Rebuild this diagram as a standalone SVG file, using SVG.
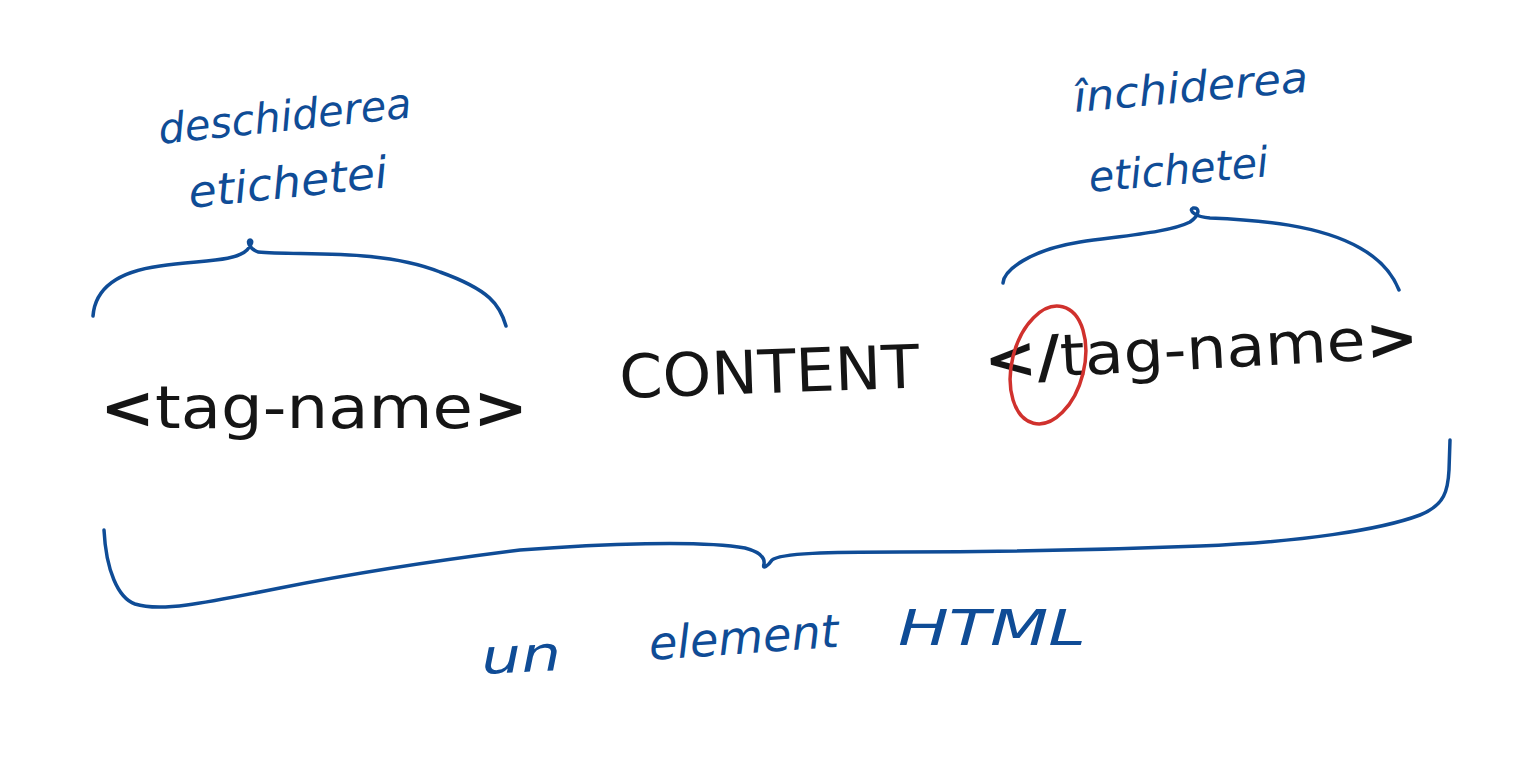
<svg xmlns="http://www.w3.org/2000/svg" width="1526" height="763" viewBox="0 0 1526 763">
<style>
.blue{fill:#0f4c96;font-family:"DejaVu Sans","Liberation Sans",sans-serif;font-style:italic}
.ink{fill:#151515;font-family:"DejaVu Sans","Liberation Sans",sans-serif}
.brace{fill:none;stroke:#0f4c96;stroke-width:3.5;stroke-linecap:round;stroke-linejoin:round}
.bold{font-weight:bold}
</style>
<rect width="1526" height="763" fill="#ffffff"/>
<g id="connectors">
<path class="brace" d="M93,316 C95,290 115,272 160,266 C200,260 235,262 247,250 C252,245 253,240 250,240 C247,240 248,248 258,252 C300,256 380,248 440,272 C490,290 500,305 506,326"/>
<path class="brace" d="M1003,283 C1004,270 1030,250 1080,242 C1130,235 1170,232 1190,222 C1200,215 1200,207 1193,208 C1188,210 1195,217 1210,218 C1260,220 1320,225 1360,248 C1385,262 1395,280 1399,290"/>
<path class="brace" d="M104,530 C106,570 118,598 135,604 C160,612 200,604 280,588 C360,572 440,560 520,550 C600,544 700,540 745,548 C760,552 765,558 764,564 C762,570 768,566 772,560 C780,553 830,552 900,552 C1000,552 1100,550 1200,546 C1300,542 1380,530 1420,515 C1445,505 1448,490 1449,470 L1450,440"/>
</g>
<g id="label-open">
<text class="blue" x="160" y="144" font-size="42" textLength="254" lengthAdjust="spacingAndGlyphs" transform="rotate(-6 160 144)">deschiderea</text>
<text class="blue" x="190" y="208" font-size="44" textLength="200" lengthAdjust="spacingAndGlyphs" transform="rotate(-6 190 208)">etichetei</text>
</g>
<g id="label-close">
<text class="blue" x="1075" y="112" font-size="42" textLength="235" lengthAdjust="spacingAndGlyphs" transform="rotate(-5 1075 112)">închiderea</text>
<text class="blue" x="1090" y="192" font-size="42" textLength="180" lengthAdjust="spacingAndGlyphs" transform="rotate(-5 1090 192)">etichetei</text>
</g>
<g id="open-tag">
<text class="ink" x="100" y="428" font-size="58" textLength="428" lengthAdjust="spacingAndGlyphs"><tspan class="bold">&lt;</tspan><tspan>tag-name</tspan><tspan class="bold">&gt;</tspan></text>
</g>
<g id="content">
<text class="ink" x="620" y="398" font-size="60" textLength="300" lengthAdjust="spacingAndGlyphs" transform="rotate(-2 620 398)">CONTENT</text>
</g>
<g id="close-tag">
<text class="ink" x="985" y="380" font-size="58" textLength="435" lengthAdjust="spacingAndGlyphs" transform="rotate(-3 985 380)"><tspan class="bold">&lt;</tspan><tspan class="bold">/</tspan><tspan>tag-name</tspan><tspan class="bold">&gt;</tspan></text>
<ellipse cx="1048" cy="365" rx="36" ry="60" transform="rotate(14 1048 365)" fill="none" stroke="#d0312d" stroke-width="3.5"/>
</g>
<g id="label-element">
<text class="blue" x="482" y="674" font-size="48" textLength="80" lengthAdjust="spacingAndGlyphs" transform="rotate(-3 482 674)">un</text>
<text class="blue" x="650" y="660" font-size="46" textLength="190" lengthAdjust="spacingAndGlyphs" transform="rotate(-4 650 660)">element</text>
<text class="blue" x="898" y="645" font-size="50" textLength="188" lengthAdjust="spacingAndGlyphs">HTML</text>
</g>
</svg>
